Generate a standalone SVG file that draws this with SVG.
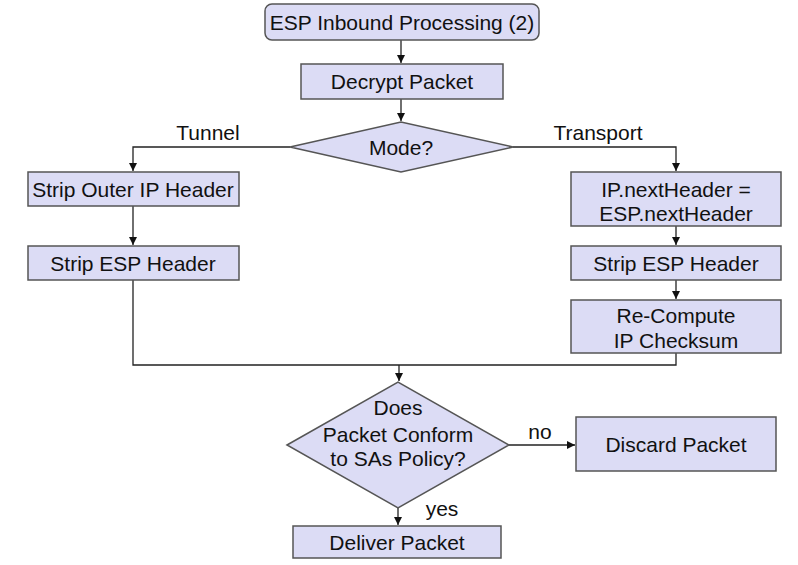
<svg xmlns="http://www.w3.org/2000/svg" width="798" height="565" viewBox="0 0 798 565">
<defs>
<marker id="ah" markerWidth="10" markerHeight="10" refX="8" refY="5" orient="auto" markerUnits="userSpaceOnUse">
<path d="M0,1 L8,5 L0,9 z" fill="#111"/>
</marker>
<style>
.n{fill:#dcdcf5;stroke:#555;stroke-width:1.5}
.t{font-family:"Liberation Sans",Arial,sans-serif;font-size:21px;fill:#111;text-anchor:middle}
.l{font-family:"Liberation Sans",Arial,sans-serif;font-size:21px;fill:#111;text-anchor:middle}
.c{fill:none;stroke:#222;stroke-width:1.3}
</style>
</defs>
<rect width="798" height="565" fill="#fff"/>
<g id="connectors">
<path class="c" d="M401,40 V63" marker-end="url(#ah)"/>
<path class="c" d="M401,99 V121" marker-end="url(#ah)"/>
<path class="c" d="M290,147 H133 V171" marker-end="url(#ah)"/>
<path class="c" d="M513,147 H676 V171" marker-end="url(#ah)"/>
<path class="c" d="M133,206 V245" marker-end="url(#ah)"/>
<path class="c" d="M676,226 V245" marker-end="url(#ah)"/>
<path class="c" d="M676,280 V299" marker-end="url(#ah)"/>
<path class="c" d="M133,280 V365 H676 V353"/>
<path class="c" d="M399,365 V381" marker-end="url(#ah)"/>
<path class="c" d="M509,445 H575" marker-end="url(#ah)"/>
<path class="c" d="M398,508 V525" marker-end="url(#ah)"/>
<text class="l" x="208" y="140">Tunnel</text>
<text class="l" x="598" y="140">Transport</text>
<text class="l" x="540" y="439">no</text>
<text class="l" x="442" y="516">yes</text>
</g>
<g id="start">
<rect class="n" x="265" y="4" width="274" height="36" rx="7"/>
<text class="t" x="402" y="30">ESP Inbound Processing (2)</text>
</g>
<g id="decrypt">
<rect class="n" x="301" y="64" width="202" height="35"/>
<text class="t" x="402" y="89">Decrypt Packet</text>
</g>
<g id="mode">
<polygon class="n" points="290,147 401,122 513,147 401,172"/>
<text class="t" x="401" y="155">Mode?</text>
</g>
<g id="stripOuter">
<rect class="n" x="28" y="172" width="211" height="34"/>
<text class="t" x="133" y="197">Strip Outer IP Header</text>
</g>
<g id="stripEspL">
<rect class="n" x="28" y="246" width="211" height="34"/>
<text class="t" x="133" y="271">Strip ESP Header</text>
</g>
<g id="nextHeader">
<rect class="n" x="571" y="172" width="210" height="54"/>
<text class="t" x="676" y="197">IP.nextHeader =</text>
<text class="t" x="676" y="221">ESP.nextHeader</text>
</g>
<g id="stripEspR">
<rect class="n" x="571" y="246" width="210" height="34"/>
<text class="t" x="676" y="271">Strip ESP Header</text>
</g>
<g id="recompute">
<rect class="n" x="571" y="300" width="210" height="53"/>
<text class="t" x="676" y="323">Re-Compute</text>
<text class="t" x="676" y="348">IP Checksum</text>
</g>
<g id="conform">
<polygon class="n" points="287,445 398,382 509,445 398,508"/>
<text class="t" x="398" y="415">Does</text>
<text class="t" x="398" y="442">Packet Conform</text>
<text class="t" x="398" y="466">to SAs Policy?</text>
</g>
<g id="discard">
<rect class="n" x="576" y="417" width="200" height="54"/>
<text class="t" x="676" y="452">Discard Packet</text>
</g>
<g id="deliver">
<rect class="n" x="293" y="526" width="208" height="32"/>
<text class="t" x="397" y="550">Deliver Packet</text>
</g>
</svg>
